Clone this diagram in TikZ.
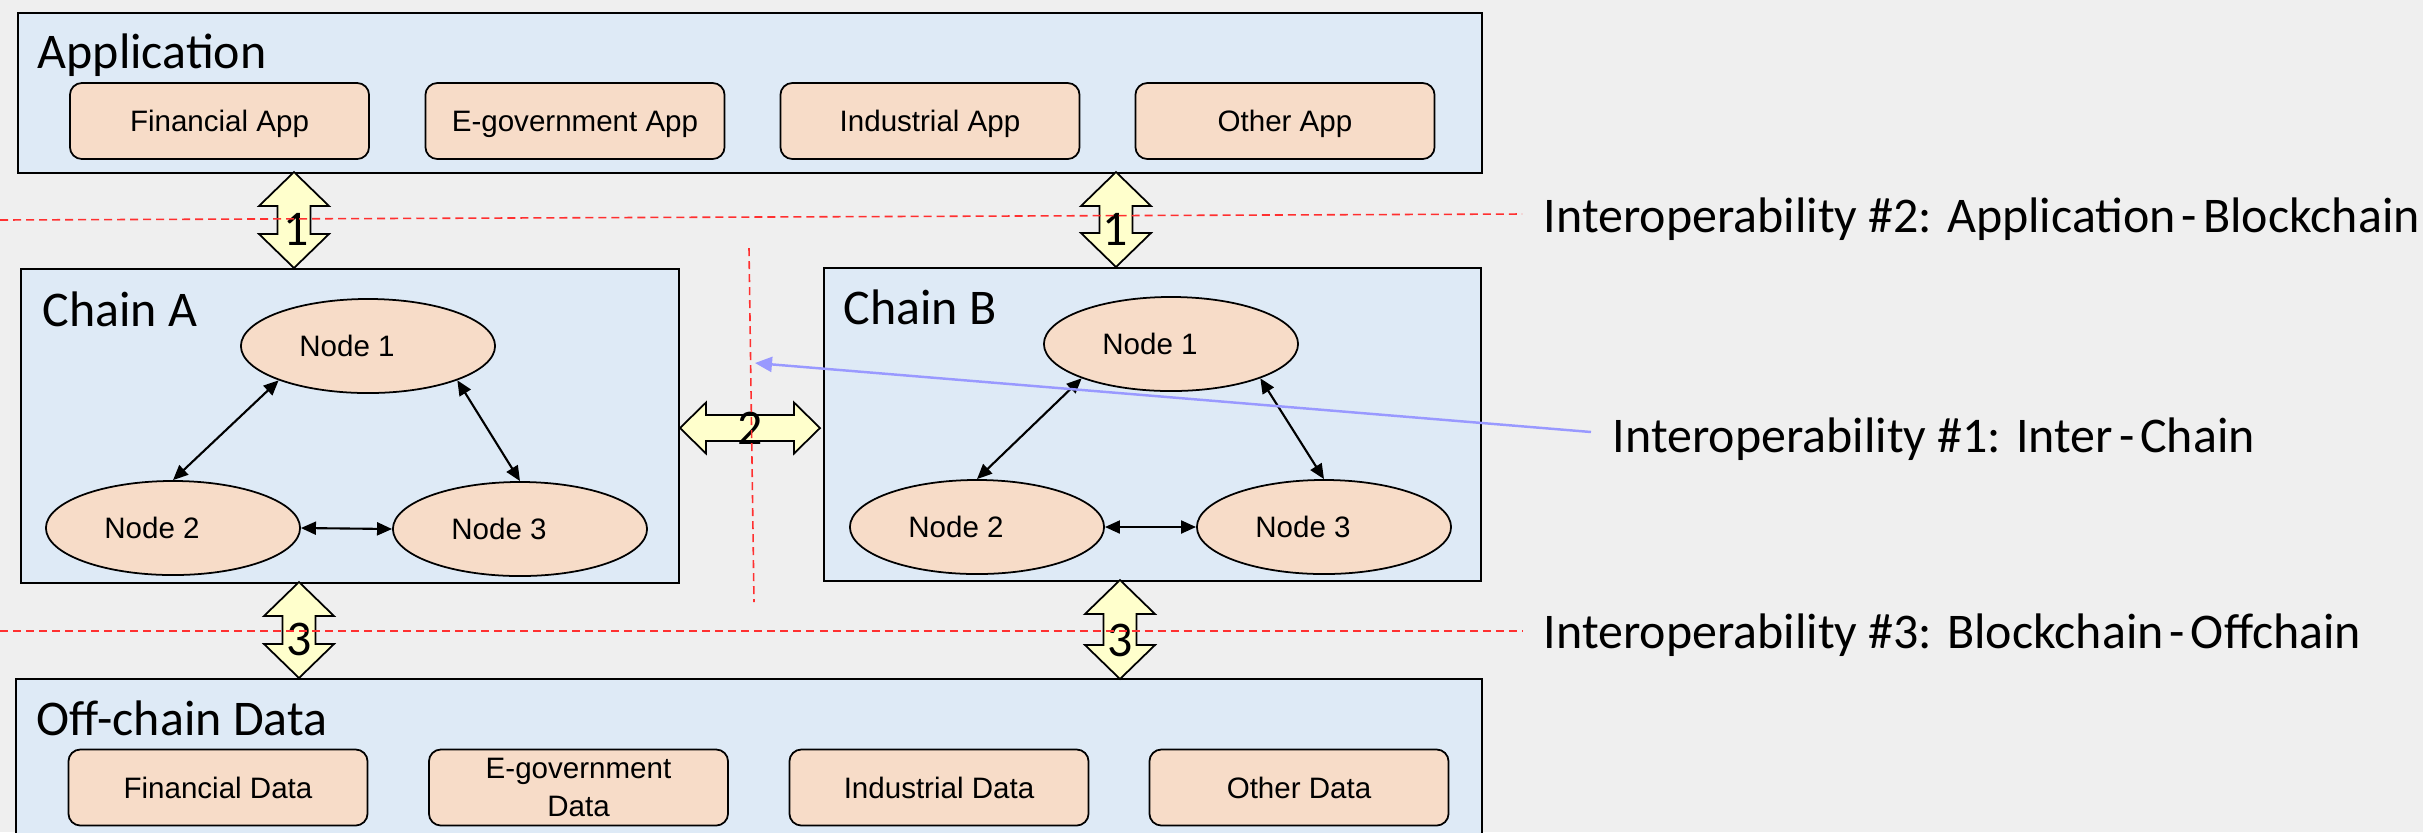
\documentclass[tikz,border=0pt]{standalone}
\usepackage{fontspec}
\setmainfont{Carlito}
\newfontfamily\boxfont{Liberation Sans}
\usetikzlibrary{arrows.meta,shapes.geometric,calc}

\definecolor{bg}{HTML}{EFEFEF}
\definecolor{layerblue}{HTML}{DEEAF6}
\definecolor{peach}{HTML}{F7DCC8}
\definecolor{fatyellow}{HTML}{FFFFCC}
\definecolor{guidered}{HTML}{FF3030}
\definecolor{pointerblue}{HTML}{9999FF}

\tikzset{
  layer/.style={draw=black, line width=0.5pt, fill=layerblue, inner sep=0pt, anchor=north west},
  heading/.style={font=\fontsize{14.2}{17}\selectfont, inner sep=0pt, anchor=base west},
  itembox/.style={draw=black, line width=0.5pt, fill=peach, rounded corners=0.12cm,
    minimum width=2.99cm, minimum height=0.76cm, inner sep=0pt, align=center,
    font=\boxfont\fontsize{8.4}{10.8}\selectfont},
  flat/.style={text depth=0pt},
  peer/.style={ellipse, draw=black, line width=0.5pt, fill=peach,
    minimum width=2.54cm, minimum height=0.94cm, inner sep=0pt,
    font=\boxfont\fontsize{8.4}{10}\selectfont},
  link/.style={line width=0.6pt, {Triangle[length=0.15cm,width=0.13cm]}-{Triangle[length=0.15cm,width=0.13cm]}},
  fat/.style={draw=black, fill=fatyellow, line width=0.5pt, line join=miter},
  digit/.style={font=\fontsize{14.2}{17}\selectfont, inner sep=0pt},
  guide/.style={draw=guidered, line width=0.45pt, dash pattern=on 0.08cm off 0.05cm},
  note/.style={font=\fontsize{14.2}{17}\selectfont, inner sep=0pt, anchor=base west},
  pointer/.style={draw=pointerblue, line width=0.7pt, -{Triangle[length=0.17cm,width=0.15cm]}}
}

% vertical double block arrow: x, top y, bottom y
\newcommand\fatvert[3]{%
  \filldraw[fat] (#1,#2) -- (#1+35,#2+34) -- (#1+16.5,#2+34) -- (#1+16.5,#3-34)
    -- (#1+35,#3-34) -- (#1,#3) -- (#1-35,#3-34) -- (#1-16.5,#3-34)
    -- (#1-16.5,#2+34) -- (#1-35,#2+34) -- cycle;}
% horizontal double block arrow: left x, right x, centre y
\newcommand\fathoriz[3]{%
  \filldraw[fat] (#1,#3) -- (#1+26,#3-25.5) -- (#1+26,#3-13) -- (#2-26,#3-13)
    -- (#2-26,#3-25.5) -- (#2,#3) -- (#2-26,#3+25.5) -- (#2-26,#3+13)
    -- (#1+26,#3+13) -- (#1+26,#3+25.5) -- cycle;}
\newcommand\hy{\kern0.12em-\kern0.12em}

\begin{document}
\begin{tikzpicture}[x=0.01cm, y=-0.01cm]
  \clip (0,0) rectangle (2423,832);
  \fill[bg] (0,0) rectangle (2423,832);

  % layers
  \node[layer, minimum width=14.63cm, minimum height=1.60cm] (app) at (17,12) {};
  \node[layer, minimum width=6.58cm, minimum height=3.14cm] (chainA) at (20,268) {};
  \node[layer, minimum width=6.57cm, minimum height=3.13cm] (chainB) at (823,267) {};
  \node[layer, minimum width=14.65cm, minimum height=2.40cm] (off) at (15,678) {};

  \node[heading] (appT) at (37,68) {Application};
  \node[heading] (chainAT) at (42,326) {Chain A};
  \node[heading] (chainBT) at (843,324) {Chain B};
  \node[heading] (offT) at (36,735) {Off-chain Data};

  % applications
  \node[itembox, flat] (finApp) at (219.5,121) {Financial App};
  \node[itembox, flat] (govApp) at (575,121) {E-government App};
  \node[itembox, flat] (indApp) at (930,121) {Industrial App};
  \node[itembox, flat] (othApp) at (1285,121) {Other App};

  % off-chain data
  \node[itembox] (finData) at (218,787.5) {Financial Data};
  \node[itembox] (govData) at (578.5,787.5) {E-government\\Data};
  \node[itembox] (indData) at (939,787.5) {Industrial Data};
  \node[itembox] (othData) at (1299,787.5) {Other Data};

  % chain A peers
  \node[peer] (a1) at (368,346) {Node 1\kern0.42cm};
  \node[peer] (a2) at (173,528) {Node 2\kern0.42cm};
  \node[peer] (a3) at (520,529) {Node 3\kern0.42cm};
  \draw[link] (a1.201) -- (a2.north);
  \draw[link] (a1.339) -- (a3.north);
  \draw[link] (a2.east) -- (a3.west);

  % chain B peers
  \node[peer] (b1) at (1171,344) {Node 1\kern0.42cm};
  \node[peer] (b2) at (977,527) {Node 2\kern0.42cm};
  \node[peer] (b3) at (1324,527) {Node 3\kern0.42cm};
  \draw[link] (b1.201) -- (b2.north);
  \draw[link] (b1.339) -- (b3.north);
  \draw[link] (b2.east) -- (b3.west);

  % interoperability arrows
  \fatvert{294}{172}{268}
  \fatvert{1116}{172}{267}
  \fatvert{299}{582}{678}
  \fatvert{1120}{580}{679}
  \fathoriz{680}{820}{428}
  \node[digit] (i1a) at (296,229) {1};
  \node[digit] (i1b) at (1115,229) {1};
  \node[digit] (i2) at (750,428.5) {2};
  \node[digit] (i3a) at (299,639) {3};
  \node[digit] (i3b) at (1120,640) {3};

  % boundaries
  \draw[guide] (0,220) -- (1522,214);
  \draw[guide] (0,631) -- (1522,631);
  \draw[guide] (749,248) -- (754,602);

  % annotations
  \node[note] (inter2) at (1543,232) {Interoperability \#2: Application\hy Blockchain};
  \node[note] (inter1) at (1612,452) {Interoperability \#1: Inter\hy Chain};
  \node[note] (inter3) at (1543,648) {Interoperability \#3: Blockchain\hy Offchain};
  \coordinate (gap) at (755,363);
  \draw[pointer] ($(inter1.base west)+(-21,-20)$) -- (gap);
\end{tikzpicture}
\end{document}
